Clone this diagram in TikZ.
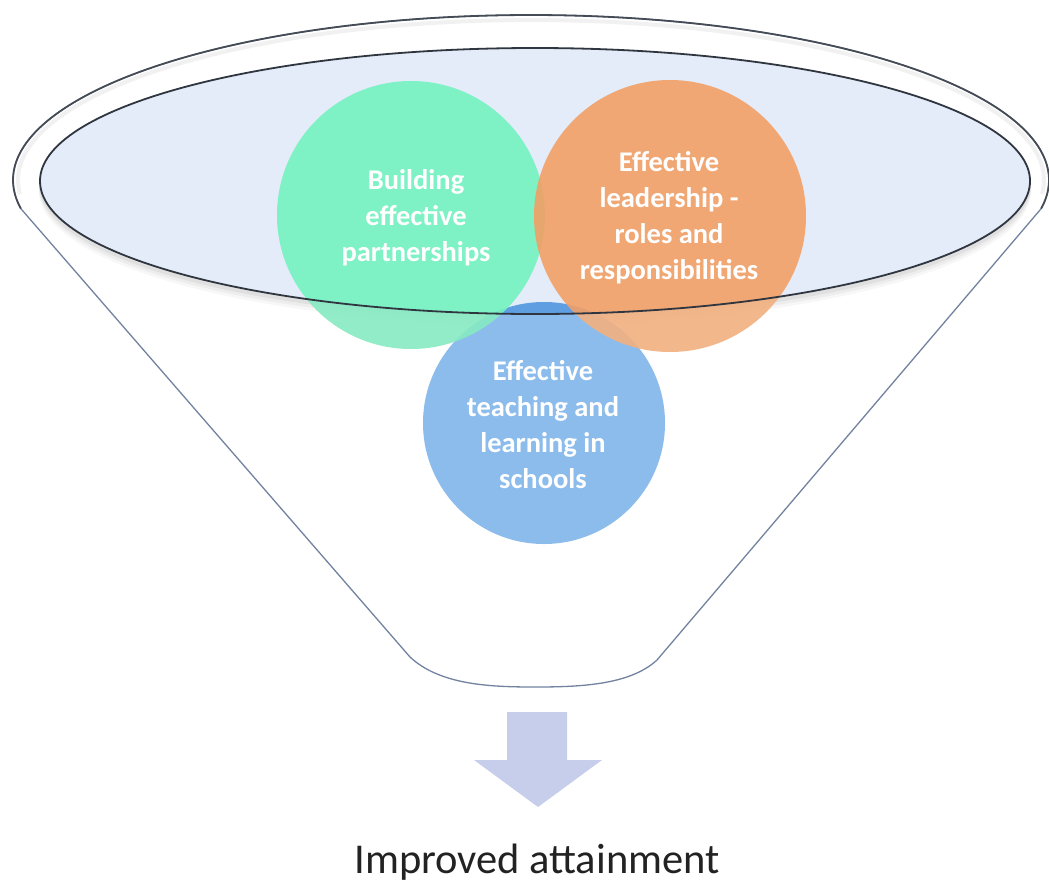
\documentclass[tikz,border=0pt]{standalone}
\usepackage{fontspec}
\setmainfont{Carlito}
\definecolor{rimgray}{HTML}{454C56}
\definecolor{sidegray}{HTML}{7382A0}
\definecolor{ellline}{HTML}{2F3640}
\definecolor{ellfill}{HTML}{E4ECF9}
\definecolor{bluein}{HTML}{609EE2}
\definecolor{blueout}{HTML}{8CBCEB}
\definecolor{greenin}{HTML}{74F2C0}
\definecolor{greenout}{HTML}{86EAC2}
\definecolor{orangein}{HTML}{F2A066}
\definecolor{orangeout}{HTML}{F2B080}
\definecolor{arrowc}{HTML}{C6CEEB}
\definecolor{labc}{HTML}{222222}
\begin{document}
\begin{tikzpicture}[x=1pt,y=-1pt,
  rimline/.style={draw=rimgray, line width=1.8pt},
  sideline/.style={draw=sidegray, line width=1.3pt},
  circtext/.style={text=white, font=\fontsize{28.5}{36}\selectfont\bfseries, align=center, inner sep=0pt},
]
\useasboundingbox (0,0) rectangle (1049,884);
% funnel body
\path[fill=white, sideline] plot[domain=170:370,samples=120,smooth] ({531+518*cos(\x)},{180+165*sin(\x)})
  -- (657,660) .. controls (630,685) and (580,687) .. (535,687)
  .. controls (490,687) and (440,685) .. (410,657) -- cycle;
% rim band shading
\draw[gray!30, line width=4pt, opacity=.35] plot[domain=175:365,samples=120,smooth] ({531+513*cos(\x)},{180+160*sin(\x)});
\draw[rimline] plot[domain=170:370,samples=120,smooth] ({531+518*cos(\x)},{180+165*sin(\x)});
% soft shadow under inner ellipse
\foreach \d/\o in {10/.03,7/.04,4/.05}{
  \fill[black, opacity=\o] (535,{181+\d}) ellipse [x radius=496pt, y radius=134pt];
}
\fill[white] (535,181) ellipse [x radius=495pt, y radius=133pt];
% circles, outside part
\fill[blueout] (544,423) circle[radius=121pt];
\fill[greenout, opacity=.9] (411,215) circle[radius=134pt];
\fill[orangeout, opacity=.9] (670,216) circle[radius=136pt];
% inside the inner ellipse
\begin{scope}
  \clip (535,181) ellipse [x radius=495pt, y radius=133pt];
  \fill[ellfill] (535,181) ellipse [x radius=495pt, y radius=133pt];
  \fill[bluein] (544,423) circle[radius=121pt];
  \fill[greenin, opacity=.9] (411,215) circle[radius=134pt];
  \fill[orangein, opacity=.9] (670,216) circle[radius=136pt];
\end{scope}
\draw[ellline, line width=1.8pt] (535,181) ellipse [x radius=495pt, y radius=133pt];
% texts
\node[circtext] (tg) at (416,218) {Building\\effective\\partnerships};
\node[circtext] (to) at (669,218) {Effective\\leadership -\\roles and\\responsibilities};
\node[circtext] (tb) at (543,425) {Effective\\teaching and\\learning in\\schools};
% arrow
\fill[arrowc] (507,712) -- (567,712) -- (567,760) -- (602,760) -- (538,807) -- (474,760) -- (507,760) -- cycle;
\node[font=\fontsize{42.5}{50}\selectfont, text=labc, anchor=base, inner sep=0pt] (lab) at (537,873) {Improved attainment};
\end{tikzpicture}
\end{document}
